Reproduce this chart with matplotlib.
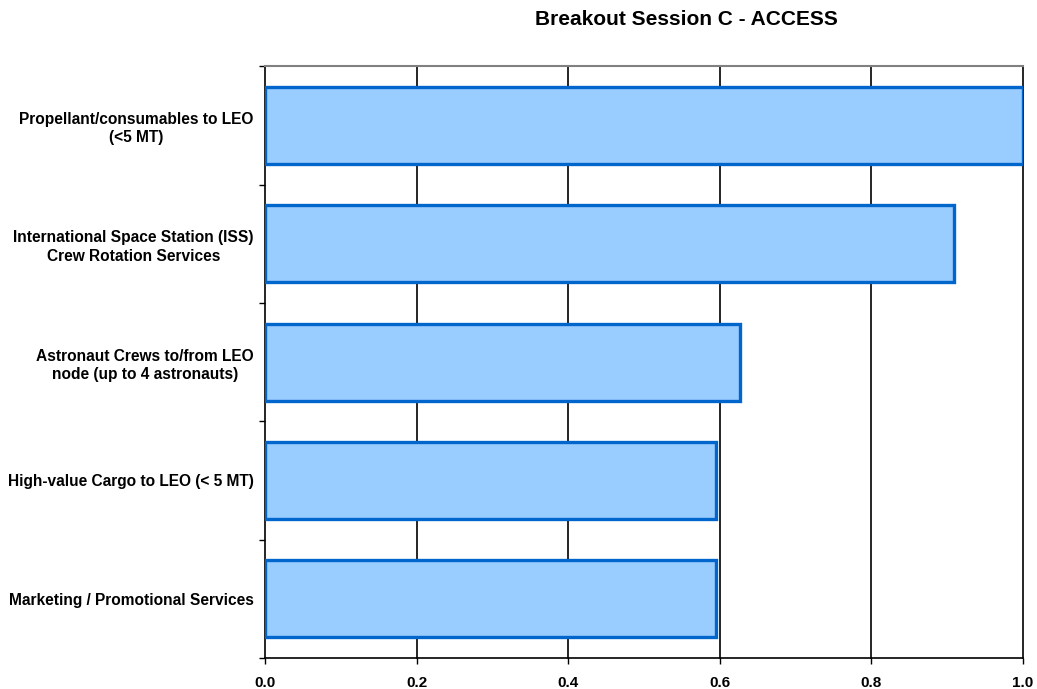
import matplotlib.pyplot as plt
import numpy as np

categories = [
    "Propellant/consumables to LEO\n(<5 MT)",
    "International Space Station (ISS)\nCrew Rotation Services",
    "Astronaut Crews to/from LEO\nnode (up to 4 astronauts)",
    "High-value Cargo to LEO (< 5 MT)",
    "Marketing / Promotional Services",
]
scores = [1.0, 0.909, 0.627, 0.595, 0.595]
x_ticks = [0.0, 0.2, 0.4, 0.6, 0.8, 1.0]

plt.rcParams["font.family"] = ["Liberation Sans", "DejaVu Sans"]
plt.rcParams["font.weight"] = "bold"

fig = plt.figure(figsize=(10.37, 6.89), dpi=100)
ax = fig.add_axes([0.2555, 0.045, 0.731, 0.859])

n = len(categories)
ypos = np.arange(n)[::-1]
ax.barh(ypos, scores, height=0.65, color="#99CCFF", edgecolor="#0066CC",
        linewidth=2.4, zorder=3)

ax.set_xlim(0, 1.0)
ax.set_ylim(-0.5, n - 0.5)

ax.set_xticks(x_ticks)
ax.set_xticklabels([f"{t:.1f}" for t in x_ticks], fontsize=11, fontweight="bold")
# vertical gridlines, drawn unclipped so the one at 1.0 shows fully
for t in x_ticks[1:]:
    ax.axvline(t, color="black", linewidth=1.2, zorder=1, clip_on=False)

ax.set_yticks(ypos)
ax.set_yticklabels(categories, fontsize=11.2, fontweight="bold",
                   multialignment="center", linespacing=1.3)
ax.set_yticks(np.arange(n + 1) - 0.5, minor=True)
ax.tick_params(axis="y", which="major", length=0, pad=8)
ax.tick_params(axis="y", which="minor", length=4, direction="out", width=1)
ax.tick_params(axis="x", length=4, direction="out", width=1, pad=9)

ax.spines["right"].set_visible(False)
ax.spines["top"].set_color("#808080")
ax.spines["top"].set_linewidth(1.5)
ax.spines["left"].set_linewidth(1.2)
ax.spines["bottom"].set_linewidth(1.2)

fig.text(0.6615, 0.971, "Breakout Session C - ACCESS", ha="center", va="center",
         fontsize=15, fontweight="bold")

fig.savefig("out.png", dpi=100)
